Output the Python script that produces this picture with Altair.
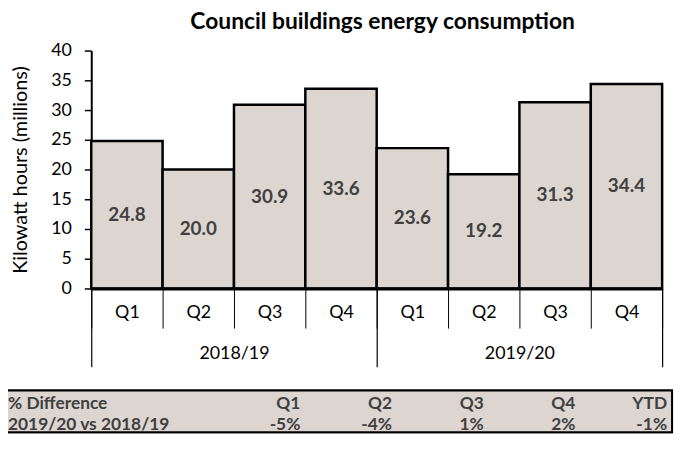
import altair as alt
import pandas as pd

# ---- data ----
years = ["2018/19"] * 4 + ["2019/20"] * 4
quarters = ["Q1", "Q2", "Q3", "Q4"] * 2
values = [24.8, 20.0, 30.9, 33.6, 23.6, 19.2, 31.3, 34.4]
year_labels = ["2018/19", "2019/20"]
table_headers = ["Q1", "Q2", "Q3", "Q4", "YTD"]
table_values = ["-5%", "-4%", "1%", "2%", "-1%"]
row_labels = ["% Difference", "2019/20 vs 2018/19"]
y_ticks = [0, 5, 10, 15, 20, 25, 30, 35, 40]

FONT = "Lato"
FILL = "#DCD5D0"
TEXT = "#404040"

periods = [f"{y} {q}" for y, q in zip(years, quarters)]
bars_df = pd.DataFrame({"period": periods, "year": years, "quarter": quarters, "value": values})
bars_df["label"] = [f"{v:.1f}" for v in values]
year_df = pd.DataFrame({"year": year_labels})

cells = []
for i, (h, v) in enumerate(zip(table_headers, table_values)):
    cells.append({"col": i + 1, "row": 1, "text": h})
    cells.append({"col": i + 1, "row": 2, "text": v})
cells_df = pd.DataFrame(cells)
rows_df = pd.DataFrame({"row": [1, 2], "text": row_labels})

# ---- bars ----
x_axis = alt.Axis(
    title=None,
    orient="bottom",
    labelExpr="split(datum.label, ' ')[1]",
    labelFont=FONT, labelFontSize=18, labelColor="black",
    labelAngle=0, labelBaseline="middle", labelPadding=-16,
    tickBand="extent", tickSize=40, tickColor="black", tickWidth=1,
    domainColor="black", domainWidth=3, zindex=1,
)
x_scale = alt.Scale(paddingInner=0, paddingOuter=0)
y_axis = alt.Axis(
    title="Kilowatt hours (millions)",
    titleFont=FONT, titleFontSize=20, titleFontWeight="normal", titleColor="black",
    titlePadding=20,
    values=y_ticks, grid=False, labelOverlap=False,
    labelFont=FONT, labelFontSize=18, labelColor="black", labelPadding=13,
    tickSize=7, tickColor="black", tickWidth=1.5,
    domainColor="black", domainWidth=2,
)
y_scale = alt.Scale(domain=[0, 40], nice=False)

bars = alt.Chart(bars_df).mark_bar(
    fill=FILL, stroke="black", strokeWidth=2.5
).encode(
    x=alt.X("period:N", sort=periods, scale=x_scale, axis=x_axis),
    y=alt.Y("value:Q", scale=y_scale, axis=y_axis),
)

bar_labels = alt.Chart(bars_df).transform_calculate(
    mid="datum.value / 2"
).mark_text(
    font=FONT, fontSize=19, fontWeight="bold", color=TEXT, baseline="middle"
).encode(
    x=alt.X("period:N", sort=periods, scale=x_scale, axis=x_axis),
    y=alt.Y("mid:Q", scale=y_scale, axis=y_axis),
    text="label:N",
)

bar_layer = alt.layer(bars, bar_labels)

# ---- year axis (second level of the category axis) ----
year_layer = alt.Chart(year_df).mark_tick(opacity=0).encode(
    x=alt.X(
        "year:N",
        sort=year_labels,
        scale=alt.Scale(paddingInner=0, paddingOuter=0),
        axis=alt.Axis(
            title=None, orient="bottom", domain=False,
            labelFont=FONT, labelFontSize=18, labelColor="black",
            labelAngle=0, labelBaseline="middle", labelPadding=-13,
            tickBand="extent", tickSize=79, tickColor="black", tickWidth=1.2,
        ),
    )
)

# ---- table ----
table_box = alt.Chart(rows_df).mark_rect(
    fill=FILL, stroke="black", strokeWidth=2
).encode(
    x=alt.value(-90), x2=alt.value(586), y=alt.value(343), y2=alt.value(385)
)

table_x = alt.X("col:Q", scale=alt.Scale(domain=[1, 5], range=[211, 581]), axis=None)
table_y = alt.Y("row:Q", scale=alt.Scale(domain=[1, 2], range=[362, 383]), axis=None)

table_cells = alt.Chart(cells_df).mark_text(
    font=FONT, fontSize=17.5, fontWeight="bold", color=TEXT, align="right", baseline="alphabetic"
).encode(x=table_x, y=table_y, text="text:N")

table_rows = alt.Chart(rows_df).mark_text(
    font=FONT, fontSize=17.5, fontWeight="bold", color=TEXT, align="left", baseline="alphabetic"
).encode(x=alt.value(-84), y=table_y, text="text:N")

table_layer = alt.layer(table_box, table_cells, table_rows)

chart = alt.layer(bar_layer, year_layer, table_layer).resolve_scale(
    x="independent", y="independent"
).properties(
    width=576,
    height=240,
    title=alt.TitleParams(
        "Council buildings energy consumption",
        font=FONT, fontSize=23, fontWeight="bold", color="black",
        anchor="middle", dx=6, offset=8,
    ),
    autosize=alt.AutoSizeParams(type="none"),
    padding={"left": 84, "top": 41, "right": 15, "bottom": 160},
    background="white",
).configure_view(stroke=None)

chart.save("out.html", embed_options={"renderer": "svg", "actions": False})
